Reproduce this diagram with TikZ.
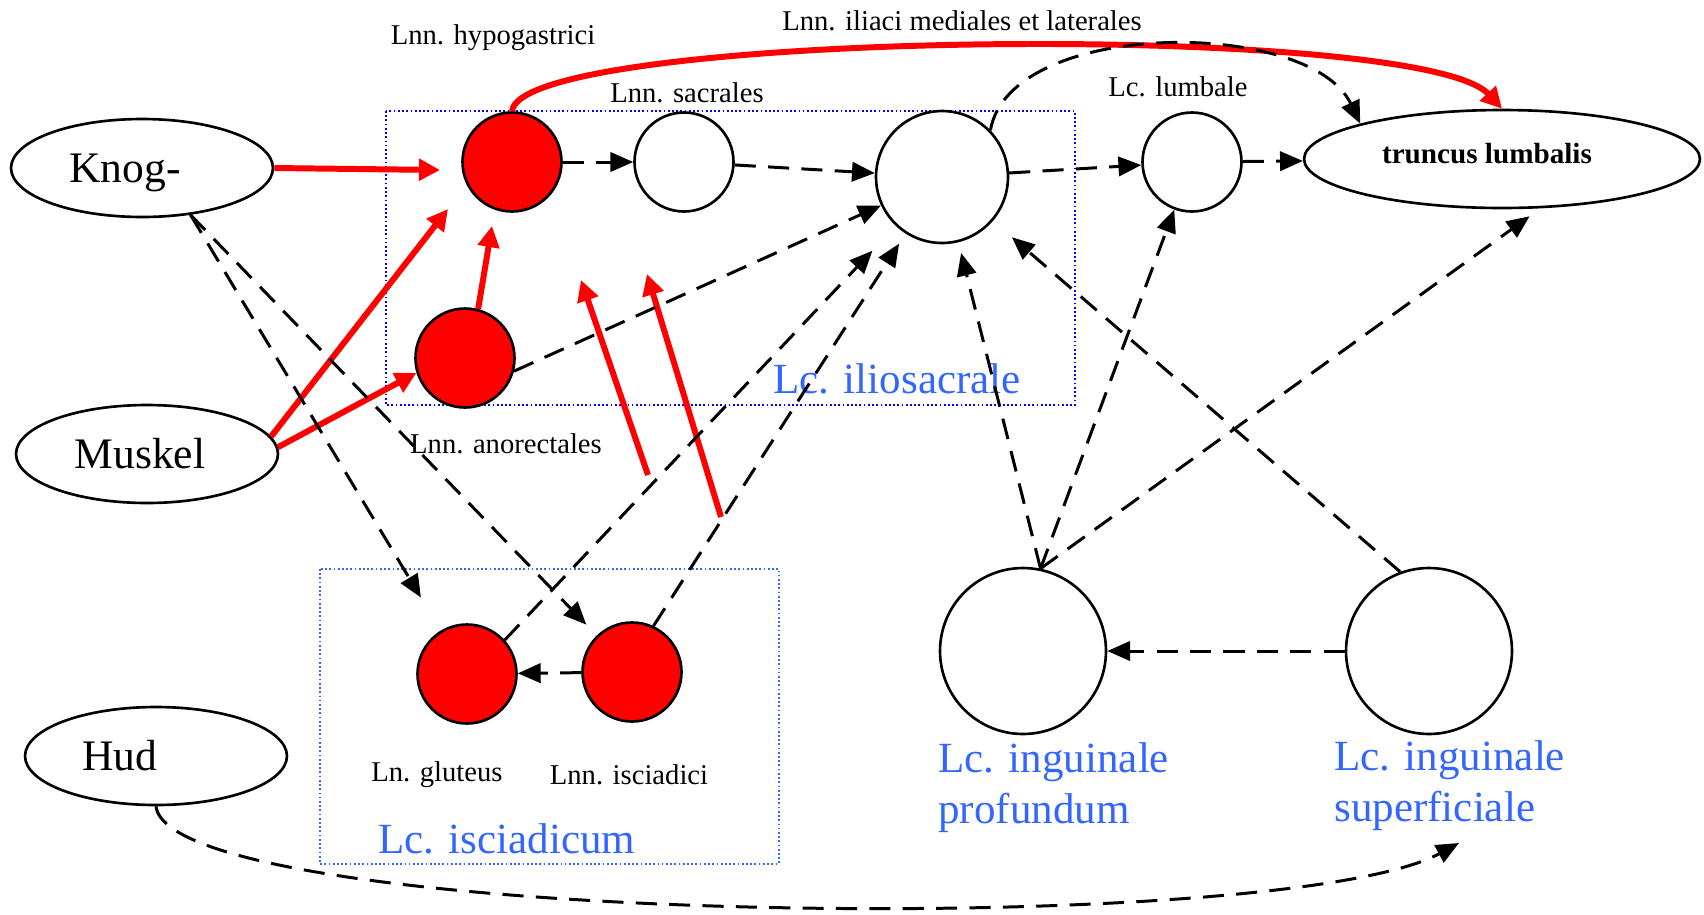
\documentclass[tikz,border=0pt]{standalone}
\usepackage{fontspec}
\setmainfont{Liberation Serif}
\usetikzlibrary{arrows.meta, shapes.geometric}
\definecolor{nodered}{RGB}{255,0,0}
\definecolor{groupblue}{RGB}{0,0,255}
\definecolor{labelblue}{RGB}{51,102,255}

\begin{document}
\begin{tikzpicture}[x=0.02cm, y=-0.02cm,
    % Styles
    source/.style={draw, ellipse, line width=1.5pt, minimum width=5.24cm, minimum height=1.96cm, inner sep=0},
    source text/.style={font=\fontsize{24.8}{29}\selectfont, text height=16.9pt, text depth=0pt, inner sep=0},
    lymph node/.style={draw, circle, line width=1.5pt, minimum size=1.98cm, inner sep=0},
    big node/.style={lymph node, minimum size=2.64cm},
    huge node/.style={lymph node, minimum size=3.32cm},
    filled/.style={fill=nodered},
    node label/.style={font=\fontsize{16.3}{19}\selectfont, inner sep=0},
    group label/.style={font=\fontsize{24.5}{29}\selectfont, text=labelblue, inner sep=0, align=left},
    group box/.style={line width=1pt, dash pattern=on 1pt off 1.4pt},
    flow/.style={line width=1.7pt, dash pattern=on 12pt off 7pt, -{Triangle[length=13pt, width=11pt]}},
    red link/.style={nodered, line width=3.4pt, -{Triangle[length=12pt, width=12pt]}},
]
    \useasboundingbox (0,0) rectangle (1704,914);

    % === Groups ===
    \draw[group box, groupblue] (386,111) rectangle (1075,405);
    \draw[group box, labelblue] (320,569) rectangle (779,864);

    % === Sources ===
    \node[source, label={[source text, xshift=-0.34cm]center:Knog-}] (knog) at (142,168) {};
    \node[source, label={[source text, xshift=-0.14cm]center:Muskel}] (muskel) at (147,454) {};
    \node[source, label={[source text, xshift=-0.72cm]center:Hud}] (hud) at (156,756) {};

    % === Lymph nodes ===
    \node[lymph node, filled] (ln-hypo) at (512,162) {};
    \node[lymph node] (ln-sacr) at (684,162) {};
    \node[big node] (ln-ilio) at (942,177) {};
    \node[lymph node] (ln-lumb) at (1192,162) {};
    \node[lymph node, filled] (ln-ano) at (465,358) {};
    \node[lymph node, filled] (ln-glut) at (467,674) {};
    \node[lymph node, filled] (ln-isci) at (632,672) {};
    \node[huge node] (ln-prof) at (1023,651) {};
    \node[huge node] (ln-superf) at (1429,651) {};
    \node[draw, ellipse, line width=1.5pt, minimum width=7.92cm, minimum height=1.96cm, inner sep=0,
        label={[font=\fontsize{16.6}{19}\selectfont\bfseries, text height=11.3pt, text depth=0pt, inner sep=0, xshift=-0.3cm, yshift=0.1cm]center:truncus lumbalis}]
        (truncus) at (1502,159) {};

    % === Labels ===
    \node[node label] (lbl-hypo) at (493,38) {Lnn. hypogastrici};
    \node[node label] (lbl-iliaci) at (962,21) {Lnn. iliaci mediales et laterales};
    \node[node label] (lbl-sacr) at (687,93) {Lnn. sacrales};
    \node[node label] (lbl-lumb) at (1178,87) {Lc. lumbale};
    \node[node label] (lbl-ano) at (506,444) {Lnn. anorectales};
    \node[node label] (lbl-glut) at (437,775) {Ln. gluteus};
    \node[node label] (lbl-isci) at (629,775) {Lnn. isciadici};
    \node[group label, anchor=base west] (grp-ilio) at (773,393) {Lc. iliosacrale};
    \node[group label, anchor=base west] (grp-isci) at (378,853) {Lc. isciadicum};
    \node[group label, anchor=north west] (grp-prof) at (938,742) {Lc. inguinale\\profundum};
    \node[group label, anchor=north west] (grp-superf) at (1334,740) {Lc. inguinale\\superficiale};

    % === Free ends ===
    \coordinate (hypo-in-a) at (440,170);
    \coordinate (hypo-in-b) at (448,209);
    \coordinate (hypo-in-c) at (492,226);
    \coordinate (red-a-start) at (648,475);
    \coordinate (red-a-end) at (581,280);
    \coordinate (red-b-start) at (721,517);
    \coordinate (red-b-end) at (647,274);
    \coordinate (hud-end) at (1459,843);

    % Red links
    \draw[red link] (knog.east) -- (hypo-in-a);
    \draw[red link] (muskel.8) -- (hypo-in-b);
    \draw[red link] (muskel.3) -- (ln-ano.197);
    \draw[red link] (ln-ano.75) -- (hypo-in-c);
    \draw[red link] (red-a-start) -- (red-a-end);
    \draw[red link] (red-b-start) -- (red-b-end);
    \draw[red link] (ln-hypo.north) .. controls (520,30) and (1420,20) .. (truncus.north);

    % Dashed flow
    \draw[flow] (ln-hypo) -- (ln-sacr);
    \draw[flow] (ln-sacr) -- (ln-ilio);
    \draw[flow] (ln-ilio) -- (ln-lumb);
    \draw[flow] (ln-lumb) -- (truncus);
    \draw[flow] (ln-ilio.44) .. controls (1010,18) and (1310,18) .. (truncus.166);
    \draw[flow] (ln-ano.-15) -- (ln-ilio.205);
    \draw[flow, shorten >=0.68cm] (ln-glut.42) -- (ln-ilio);
    \draw[flow, shorten >=0.24cm] (ln-isci.65) -- (ln-ilio);
    \draw[flow] (ln-isci) -- (ln-glut);
    \draw[flow, shorten >=0.22cm] (ln-prof.78) -- (ln-ilio);
    \draw[flow] (ln-prof.78) -- (ln-lumb);
    \draw[flow, shorten >=0.27cm] (ln-prof.78) -- (truncus.-52);
    \draw[flow, shorten >=0.5cm] (ln-superf.110) -- (ln-ilio);
    \draw[flow] (ln-superf) -- (ln-prof);
    \draw[flow, shorten >=0.77cm] (knog.-44) -- (ln-glut);
    \draw[flow, shorten >=0.3cm] (knog.-44) -- (ln-isci);
    \draw[flow] (hud.south) .. controls (170,925) and (1280,940) .. (hud-end);
\end{tikzpicture}
\end{document}
